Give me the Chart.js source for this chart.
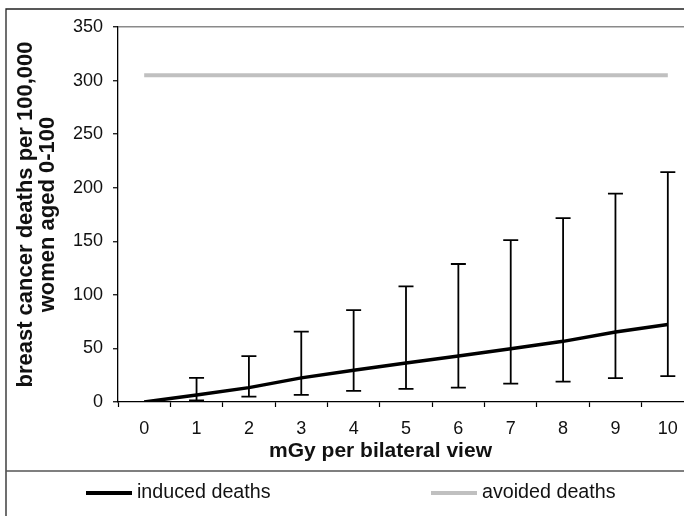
<!DOCTYPE html>
<html>
<head>
<meta charset="utf-8">
<script src="https://cdn.jsdelivr.net/npm/chart.js@4"></script>
<style>
html,body{margin:0;padding:0;background:#fff;overflow:hidden;}
canvas{display:block;}
</style>
</head>
<body>
<canvas id="c" width="700" height="516" style="width:700px;height:516px"></canvas>
<script>
const categories = ['0','1','2','3','4','5','6','7','8','9','10'];
const inducedDeaths = [0, 6.6, 13.4, 22.5, 29.7, 36.3, 43, 49.7, 56.6, 65.4, 72.3];
const inducedUpper = [null, 22.5, 42.9, 65.7, 85.7, 107.9, 128.8, 151, 171.7, 194.5, 214.6];
const inducedLower = [null, 1.6, 5, 6.6, 10.3, 12.2, 13.4, 17.2, 19, 22.2, 24.1];
const avoidedDeaths = [305, 305, 305, 305, 305, 305, 305, 305, 305, 305, 305];
const yTicks = [0, 50, 100, 150, 200, 250, 300, 350];
const xTitle = 'mGy per bilateral view';
const yTitle = ['breast cancer deaths per 100,000', 'women aged 0-100'];

const FONT = "'Liberation Sans', Arial, sans-serif";

const frameAndLegend = {
  id: 'frameAndLegend',
  beforeDraw(chart) {
    const ctx = chart.ctx;
    ctx.save();
    ctx.fillStyle = '#fff';
    ctx.fillRect(0, 0, chart.width, chart.height);
    ctx.strokeStyle = '#222';
    ctx.lineWidth = 1.3;
    ctx.beginPath();
    ctx.moveTo(6, 516);
    ctx.lineTo(6, 9);
    ctx.lineTo(chart.width, 9);
    ctx.stroke();
    ctx.strokeStyle = '#555';
    ctx.lineWidth = 1.3;
    ctx.beginPath();
    ctx.moveTo(6, 471);
    ctx.lineTo(chart.width, 471);
    ctx.stroke();
    ctx.restore();
  },
  afterDraw(chart) {
    const ctx = chart.ctx;
    ctx.save();
    // x axis title
    ctx.fillStyle = '#111';
    ctx.font = "bold 21px " + FONT;
    ctx.textBaseline = 'middle';
    ctx.textAlign = 'center';
    ctx.fillText(xTitle, 380.5, 451);
    // legend
    const xs = [86, 431];
    const y = 493;
    chart.data.datasets.forEach((ds, i) => {
      const x = xs[i];
      ctx.strokeStyle = ds.borderColor;
      ctx.lineWidth = 4;
      ctx.beginPath();
      ctx.moveTo(x, y);
      ctx.lineTo(x + 46, y);
      ctx.stroke();
      ctx.fillStyle = '#111';
      ctx.font = "19.7px " + FONT;
      ctx.textBaseline = 'middle';
      ctx.textAlign = 'left';
      ctx.fillText(ds.label, x + 51, y);
    });
    ctx.restore();
  }
};

const errorBars = {
  id: 'errorBars',
  afterDatasetsDraw(chart) {
    const ctx = chart.ctx;
    const meta = chart.getDatasetMeta(0);
    const ys = chart.scales.y;
    ctx.save();
    ctx.strokeStyle = '#000';
    ctx.lineWidth = 1.8;
    meta.data.forEach((pt, i) => {
      if (inducedUpper[i] == null) return;
      const x = pt.x;
      const yu = ys.getPixelForValue(inducedUpper[i]);
      const yl = ys.getPixelForValue(inducedLower[i]);
      ctx.beginPath();
      ctx.moveTo(x, yu); ctx.lineTo(x, yl);
      ctx.moveTo(x - 7.5, yu); ctx.lineTo(x + 7.5, yu);
      ctx.moveTo(x - 7.5, yl); ctx.lineTo(x + 7.5, yl);
      ctx.stroke();
    });
    ctx.restore();
  }
};

new Chart(document.getElementById('c'), {
  type: 'line',
  data: {
    labels: categories,
    datasets: [
      {
        label: 'induced deaths',
        data: inducedDeaths,
        borderColor: '#000',
        borderWidth: 3.5,
        pointRadius: 0,
        tension: 0,
        fill: false
      },
      {
        label: 'avoided deaths',
        data: avoidedDeaths,
        borderColor: '#c0c0c0',
        borderWidth: 4,
        pointRadius: 0,
        tension: 0,
        fill: false
      }
    ]
  },
  options: {
    responsive: false,
    animation: false,
    devicePixelRatio: 1,
    layout: { padding: { left: 13, top: 27, right: 6, bottom: 53 } },
    plugins: {
      legend: { display: false },
      tooltip: { enabled: false }
    },
    scales: {
      x: {
        type: 'category',
        offset: true,
        grid: { display: true, drawOnChartArea: false, offset: true, tickLength: 5, tickColor: '#000', tickWidth: 1.2 },
        border: { display: true, color: '#000', width: 1.3 },
        ticks: { color: '#111', font: { family: FONT, size: 18 }, padding: 11, maxRotation: 0 },
        title: { display: false },
        afterFit(scale) { scale.height = 61; }
      },
      y: {
        min: 0,
        max: 350,
        afterBuildTicks(scale) { scale.ticks = yTicks.map(v => ({ value: v })); },
        grid: {
          drawOnChartArea: true,
          color: (c) => (c.tick && c.tick.value === 350 ? '#8a8a8a' : 'rgba(0,0,0,0)'),
          lineWidth: 1.5,
          tickLength: 5,
          tickColor: '#000',
          tickWidth: 1.2
        },
        border: { display: true, color: '#000', width: 1.3 },
        ticks: { color: '#111', font: { family: FONT, size: 18 }, padding: 10 },
        title: {
          display: true,
          text: yTitle,
          color: '#111',
          font: { family: FONT, size: 22, weight: 'bold', lineHeight: '22px' },
          padding: { top: 2, bottom: 0 }
        },
        afterFit(scale) { scale.width = 105; }
      }
    }
  },
  plugins: [frameAndLegend, errorBars]
});
</script>
</body>
</html>
